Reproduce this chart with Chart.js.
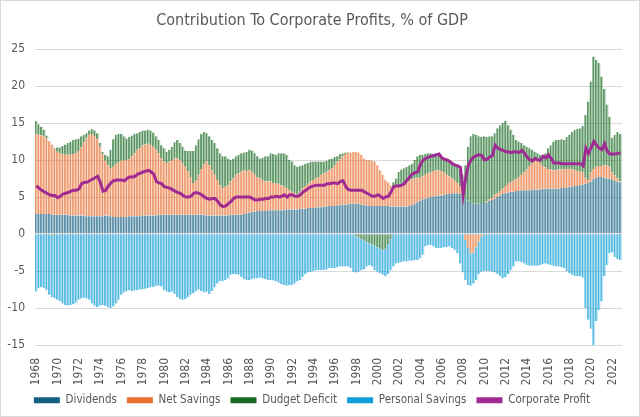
<!DOCTYPE html>
<html><head><meta charset="utf-8">
<script src="https://cdn.jsdelivr.net/npm/chart.js@4.4.1/dist/chart.umd.min.js"></script>
<style>html,body{margin:0;padding:0;background:#fff}</style>
</head><body>
<canvas id="c" width="640" height="417"></canvas>
<script>
const years = [];
for (let y = 1968; y <= 2022; y++) years.push(String(y));
const quarters = ['Q1','Q2','Q3','Q4'];
const tickLabels = ['1968','1970','1972','1974','1976','1978','1980','1982','1984','1986','1988','1990','1992','1994','1996','1998','2000','2002','2004','2006','2008','2010','2012','2014','2016','2018','2020','2022'];

const dividends = [
2.7,2.7,2.7,2.7, 2.7,2.7,2.6,2.6, 2.6,2.6,2.6,2.6, 2.6,2.5,2.5,2.5, 2.5,2.5,2.5,2.4, 2.4,2.4,2.4,2.4, 2.4,2.4,2.5,2.5, 2.4,2.3,2.3,2.3,
2.3,2.3,2.3,2.4, 2.4,2.4,2.4,2.4, 2.5,2.5,2.5,2.5, 2.5,2.5,2.6,2.6, 2.6,2.6,2.6,2.6, 2.6,2.6,2.6,2.6, 2.6,2.6,2.6,2.6, 2.6,2.6,2.6,2.6,
2.5,2.5,2.5,2.5, 2.5,2.5,2.5,2.5, 2.5,2.6,2.6,2.6, 2.6,2.6,2.7,2.8, 2.9,3.0,3.0,3.1, 3.1,3.1,3.1,3.2, 3.2,3.2,3.2,3.2, 3.2,3.2,3.3,3.3,
3.3,3.3,3.3,3.4, 3.4,3.4,3.5,3.5, 3.5,3.6,3.6,3.6, 3.7,3.7,3.8,3.8, 3.8,3.9,3.9,4.0, 4.0,4.0,4.1,4.1, 4.1,4.1,4.0,3.9, 3.9,3.8,3.8,3.8,
3.8,3.8,3.8,3.8, 3.8,3.7,3.7,3.7, 3.7,3.7,3.7,3.7, 3.8,3.9,4.1,4.3, 4.5,4.7,4.8,4.9, 5.0,5.1,5.1,5.2, 5.2,5.3,5.4,5.4, 5.5,5.5,5.5,5.4,
5.2,4.9,4.5,4.2, 4.1,4.1,4.1,4.2, 4.2,4.3,4.5,4.6, 4.8,5.0,5.2,5.4, 5.5,5.6,5.7,5.7, 5.8,5.8,5.9,5.9, 5.9,5.9,6.0,6.0, 6.0,6.0,6.1,6.1,
6.1,6.1,6.1,6.1, 6.1,6.2,6.2,6.3, 6.4,6.4,6.5,6.5, 6.6,6.7,6.8,6.9, 7.1,7.4,7.6,7.7, 7.7,7.6,7.5,7.5, 7.3,7.2,7.1,7.0
];
const netSavings = [
10.8,10.7,10.6,10.5, 10.2,9.8,9.5,8.9, 8.5,8.3,8.2,8.1, 8.1,8.2,8.3,8.4, 8.7,9.2,9.9,10.6, 11.0,11.1,10.8,10.4, 9.4,8.4,7.4,6.8, 6.5,6.8,7.1,7.4,
7.6,7.7,7.7,7.7, 8.1,8.5,9.0,9.2, 9.5,9.6,9.7,9.5, 9.3,8.9,8.3,7.6, 7.2,7.0,7.2,7.4, 7.6,7.6,7.4,6.9, 6.5,5.9,5.1,4.3, 4.6,5.4,6.2,6.8,
7.3,6.8,6.1,5.5, 4.8,4.1,3.7,3.9, 4.1,4.5,4.9,5.4, 5.6,5.8,5.9,5.7, 5.7,5.4,5.0,4.6, 4.4,4.2,4.0,3.9, 3.9,3.7,3.6,3.6, 3.4,3.2,2.9,2.6,
2.4,2.2,2.1,2.3, 2.8,3.1,3.3,3.6, 3.8,3.9,4.1,4.4, 4.5,4.7,4.8,5.1, 5.5,5.9,6.2,6.5, 6.8,7.0,6.9,7.0, 7.0,6.9,6.7,6.3, 6.1,6.2,6.1,6.0,
5.5,4.8,4.2,3.5, 3.2,2.9,2.8,2.7, 2.9,3.1,3.1,3.4, 3.4,3.5,3.4,3.3, 3.1,3.1,3.2,3.3, 3.3,3.4,3.5,3.4, 3.3,3.0,2.6,2.4, 2.0,1.7,1.4,1.1,
0.3,-0.8,-1.9,-2.6, -2.5,-1.8,-1.0,-0.3, 0.0,0.1,0.2,0.3, 0.5,0.5,0.6,0.7, 1.0,1.2,1.3,1.5, 1.6,1.9,2.1,2.4, 2.8,3.3,3.6,3.9, 3.9,3.6,3.1,2.9,
2.7,2.6,2.5,2.5, 2.6,2.5,2.6,2.5, 2.4,2.3,2.1,2.0, 1.9,1.6,0.8,0.4, 1.2,1.4,1.5,1.5, 1.5,1.7,1.8,1.6, 1.0,0.7,0.4,0.1
];
const budgetDeficit = [
1.8,1.4,1.2,0.9, 0.4,0.1,-0.2,0.1, 0.6,0.8,1.1,1.4, 1.6,1.8,1.9,1.9, 1.7,1.5,1.0,0.6, 0.6,0.7,0.8,0.8, 0.5,0.3,0.8,1.2, 2.5,3.7,4.0,3.8,
3.6,3.2,2.9,3.0, 2.8,2.6,2.2,2.2, 2.0,1.9,1.9,2.0, 1.9,1.8,1.8,1.8, 1.8,1.5,1.6,1.8, 2.2,2.5,2.3,2.3, 2.2,2.7,3.5,4.3, 4.8,4.8,4.7,4.4,
3.8,3.9,4.1,4.3, 4.3,4.3,4.3,4.1, 3.6,2.9,2.7,2.5, 2.5,2.5,2.4,2.6, 2.8,2.9,2.9,2.8, 2.7,3.0,3.4,3.4, 3.8,3.9,3.9,4.1, 4.3,4.5,4.5,4.1,
4.1,3.8,3.7,3.5, 3.1,3.0,2.8,2.7, 2.5,2.3,2.1,1.8, 1.6,1.5,1.5,1.3, 1.1,0.7,0.7,0.4, 0.2,0.1,0.0,-0.1, -0.3,-0.5,-0.7,-0.9, -1.1,-1.3,-1.4,-1.6,
-1.8,-2.0,-2.2,-2.0, -1.4,-0.7,0.5,1.1, 1.8,1.9,2.1,2.0, 2.1,2.1,2.5,2.9, 3.1,2.9,2.8,2.7, 2.6,2.3,2.1,2.0, 1.9,2.0,2.1,2.1, 2.2,2.3,2.3,2.3,
2.5,4.4,7.3,9.0, 9.4,9.3,9.1,8.9, 9.0,8.7,8.5,8.3, 8.3,8.8,8.9,8.9, 8.8,7.9,7.1,6.2, 5.3,4.8,4.3,3.7, 3.1,2.4,1.8,1.2, 1.0,1.1,1.5,1.9,
2.8,3.3,3.9,4.1, 4.0,4.1,3.9,4.3, 4.6,5.1,5.5,5.7, 5.8,6.3,8.5,10.6, 12.3,15.2,14.4,13.9, 12.1,10.3,8.2,6.7, 4.7,5.5,6.3,6.4
];
const personalSavings = [
-7.8,-7.3,-7.2,-7.3, -7.6,-8.2,-8.3,-8.7, -8.9,-9.1,-9.4,-9.6, -9.7,-9.6,-9.5,-9.3, -8.9,-8.7,-8.6,-8.7, -8.9,-9.4,-9.7,-9.9, -9.7,-9.6,-9.7,-9.9, -10.0,-9.8,-9.4,-8.9,
-8.2,-7.9,-7.7,-7.6, -7.7,-7.6,-7.6,-7.5, -7.5,-7.4,-7.3,-7.2, -7.2,-7.0,-7.0,-7.1, -7.6,-7.8,-7.9,-7.8, -8.1,-8.5,-8.8,-8.9, -8.8,-8.5,-8.2,-8.0, -7.7,-7.5,-7.7,-7.9,
-7.8,-8.1,-7.7,-7.2, -6.7,-6.4,-6.4,-6.2, -6.0,-5.5,-5.4,-5.4, -5.5,-5.8,-6.1,-6.2, -6.2,-6.1,-6.0,-6.0, -5.9,-6.0,-6.1,-6.2, -6.2,-6.3,-6.4,-6.6, -6.8,-6.9,-7.0,-6.9,
-6.9,-6.7,-6.4,-6.2, -5.8,-5.4,-5.2,-5.1, -5.0,-4.9,-4.9,-4.9, -4.9,-4.8,-4.6,-4.6, -4.6,-4.5,-4.4,-4.4, -4.4,-4.4,-4.6,-5.0, -4.9,-4.6,-4.2,-3.9, -3.3,-2.9,-3.0,-3.3,
-3.3,-3.3,-3.3,-3.7, -4.0,-4.2,-4.4,-4.0, -3.9,-3.8,-3.7,-3.7, -3.6,-3.6,-3.5,-3.5, -3.3,-2.8,-1.7,-1.5, -1.5,-1.7,-1.9,-1.9, -1.9,-1.8,-1.8,-1.7, -1.9,-2.2,-2.6,-4.0,
-5.2,-5.4,-5.0,-4.4, -4.2,-4.4,-4.4,-4.8, -5.0,-5.0,-5.0,-5.1, -5.2,-5.4,-5.7,-6.0, -5.8,-5.4,-4.9,-4.4, -3.7,-3.7,-3.8,-4.0, -4.2,-4.3,-4.3,-4.3, -4.3,-4.2,-4.1,-4.0,
-4.1,-4.2,-4.3,-4.4, -4.4,-4.5,-4.6,-5.0, -5.3,-5.5,-5.7,-5.7, -5.7,-5.9,-10.0,-11.6, -12.8,-15.1,-11.8,-10.3, -9.1,-5.7,-4.2,-2.6, -2.5,-3.1,-3.4,-3.5
];
const corporateProfit = [
6.5,6.2,5.9,5.7, 5.5,5.3,5.2,5.2, 4.9,5.1,5.4,5.5, 5.6,5.8,5.9,5.9, 6.1,6.8,7.0,7.0, 7.2,7.4,7.6,7.8, 7.0,5.8,5.9,6.5, 6.9,7.2,7.3,7.3,
7.3,7.2,7.5,7.7, 7.7,7.8,8.1,8.2, 8.4,8.5,8.6,8.4, 8.1,7.1,6.9,6.8, 6.4,6.3,6.2,6.0, 5.8,5.6,5.5,5.2, 5.0,5.0,5.1,5.5, 5.6,5.5,5.3,5.0,
4.8,4.7,4.8,4.8, 4.4,3.9,3.7,3.8, 4.1,4.4,4.8,5.0, 5.0,5.0,5.0,5.0, 5.0,4.8,4.6,4.6, 4.7,4.7,4.8,4.8, 5.0,5.0,5.1,5.0, 5.1,5.3,5.0,5.3,
5.3,5.1,5.1,5.3, 5.7,5.9,6.2,6.4, 6.5,6.6,6.6,6.6, 6.6,6.8,6.8,6.9, 6.9,6.8,7.1,7.2, 6.4,6.0,5.9,5.9, 5.9,5.9,5.9,5.7, 5.5,5.3,5.1,5.1,
5.3,5.1,4.8,5.0, 5.1,5.7,6.4,6.5, 6.5,6.6,6.8,7.3, 7.7,8.1,8.3,8.4, 9.4,10.0,10.2,10.4, 10.5,10.6,10.7,10.8, 10.3,10.1,10.0,9.8, 9.5,9.3,9.2,9.0,
5.3,7.7,9.4,10.0, 10.4,10.6,10.7,10.6, 10.0,10.1,10.4,10.6, 12.0,11.6,11.4,11.3, 11.1,11.1,11.0,11.1, 11.1,11.0,11.3,10.9, 10.4,10.0,9.9,10.2, 10.0,10.0,10.5,10.3,
10.7,10.2,9.6,9.6, 9.6,9.5,9.5,9.5, 9.5,9.5,9.5,9.5, 9.5,9.2,11.6,10.9, 11.7,12.5,12.0,11.6, 11.4,12.2,11.2,10.8, 10.8,10.8,10.9,10.9
];

const categories = [];
years.forEach(y => quarters.forEach(q => categories.push(y + ' ' + q)));

const FONT = "'DejaVu Sans Condensed','Liberation Sans Narrow','Arial Narrow',sans-serif";
Chart.defaults.font.family = FONT;
Chart.defaults.color = '#595959';

function barSet(label, data, rgb) {
  return {
    type: 'bar', label, data, stack: 'parts', order: 2,
    backgroundColor: 'rgba(' + rgb + ',0.27)',
    borderColor: 'rgba(' + rgb + ',0.68)',
    borderWidth: {left: 1, right: 0, top: 0, bottom: 0},
    borderSkipped: false,
    barPercentage: 1, categoryPercentage: 1,
    legendColor: 'rgb(' + rgb + ')'
  };
}

const frame = {
  id: 'frame',
  beforeDraw(chart) {
    const ctx = chart.ctx;
    ctx.save(); ctx.fillStyle = '#ffffff'; ctx.fillRect(0, 0, chart.width, chart.height); ctx.restore();
  },
  afterDraw(chart) {
    const ctx = chart.ctx;
    ctx.save(); ctx.strokeStyle = '#d9d9d9'; ctx.lineWidth = 1;
    ctx.strokeRect(0.5, 0.5, chart.width - 1, chart.height - 1); ctx.restore();
  }
};

new Chart(document.getElementById('c'), {
  data: {
    labels: categories,
    datasets: [
      barSet('Dividends', dividends, '21,96,130'),
      barSet('Net Savings', netSavings, '233,113,50'),
      barSet('Dudget Deficit', budgetDeficit, '25,107,36'),
      barSet('Personal Savings', personalSavings, '15,158,213'),
      { type: 'line', label: 'Corporate Profit', data: corporateProfit, stack: 'line', order: 0,
        borderColor: '#A02B93', backgroundColor: '#A02B93', borderWidth: 3, pointRadius: 0,
        tension: 0, fill: false, legendColor: '#A02B93' }
    ]
  },
  options: {
    responsive: false, animation: false, devicePixelRatio: 1,
    layout: { padding: { left: 0, right: 16, top: 0, bottom: 1 } },
    plugins: {
      title: { display: true, text: 'Contribution To Corporate Profits, % of GDP', color: '#595959',
        font: { size: 16, weight: 'normal' }, padding: { top: 11.4, bottom: 18.4 } },
      legend: { position: 'bottom',
        labels: { boxWidth: 26, boxHeight: 6, padding: 10, color: '#595959', font: { size: 11.5 },
          sort: (a, b) => a.datasetIndex - b.datasetIndex,
          generateLabels(chart) {
            const items = Chart.defaults.plugins.legend.labels.generateLabels(chart);
            items.forEach(it => { const ds = chart.data.datasets[it.datasetIndex];
              it.fillStyle = ds.legendColor; it.strokeStyle = ds.legendColor; it.lineWidth = 0; });
            return items;
          } } },
      tooltip: { enabled: false }
    },
    scales: {
      x: { stacked: true, grid: { display: false }, border: { display: false },
        ticks: { autoSkip: false, minRotation: 90, maxRotation: 90, padding: 5, color: '#595959', font: { size: 12 },
          callback: function(v) { const l = this.getLabelForValue(v); const p = l.split(' ');
            return (p[1] === 'Q1' && tickLabels.includes(p[0])) ? p[0] : ''; } },
        afterFit(s) { s.height = 39.5; } },
      y: { stacked: true, min: -15, max: 25,
        grid: { color: '#d9d9d9', drawTicks: false }, border: { display: false },
        ticks: { stepSize: 5, padding: 10, color: '#595959', font: { size: 12 } },
        afterFit(s) { s.width = 35; } }
    }
  },
  plugins: [frame]
});
</script>
</body></html>
